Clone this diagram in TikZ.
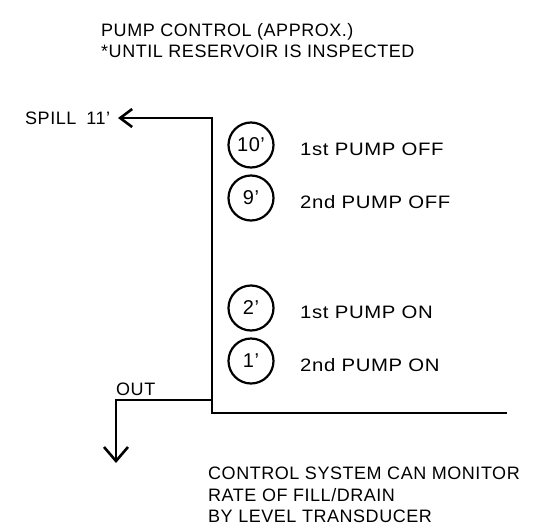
\documentclass[tikz,border=0pt]{standalone}
\usepackage{fontspec}
\setmainfont{Liberation Sans}[LetterSpace=3]
\usetikzlibrary{arrows.meta}
\begin{document}
\begin{tikzpicture}[x=1pt,y=-1pt,
  txt/.style={anchor=base west, inner sep=0pt, font=\fontsize{18}{18}\selectfont},
  lbl/.style={txt, xscale=1.13, transform shape},
  lvl/.style={circle, draw, line width=2.2pt, minimum size=45pt, inner sep=0pt, font=\fontsize{20}{20}\selectfont},
  pipe/.style={line width=2.6pt},
  barb/.style={-{Straight Barb[length=14pt,width=24pt,line width=2.6pt]}},
  sbarb/.style={-{Straight Barb[length=12pt,width=18pt,line width=2.6pt]}}]
\useasboundingbox (0,0) rectangle (556,530);
% title
\node[txt] (t1) at (101,36.5) {PUMP CONTROL (APPROX.)};
\node[txt] (t2) at (101,57.5) {*UNTIL RESERVOIR IS INSPECTED};
% spill
\node[txt] (spill) at (25,124.5) {SPILL\hspace{10pt}11'};
\coordinate (spilltip) at (118,118);
\coordinate (top) at (212,118);
\coordinate (bend) at (212,413);
\coordinate (end) at (507,413);
\draw[pipe,sbarb] (end) -- (bend) -- (top) -- (spilltip);
% out
\node[txt] (out) at (116,395) {OUT};
\coordinate (outR) at (212,400);
\coordinate (outL) at (116,400);
\coordinate (outtip) at (116,463);
\draw[pipe,barb] (outR) -- (outL) -- (outtip);
% levels
\node[lvl] (c10) at (251,145) {10'};
\node[lvl] (c9) at (251,198) {9'};
\node[lvl] (c2) at (251,308) {2'};
\node[lvl] (c1) at (251,361) {1'};
\node[lbl] (l10) at (300,155.5) {1st PUMP OFF};
\node[lbl] (l9) at (300,208.5) {2nd PUMP OFF};
\node[lbl] (l2) at (300,318.5) {1st PUMP ON};
\node[lbl] (l1) at (300,371.5) {2nd PUMP ON};
% note
\node[txt] (n1) at (208,479.5) {CONTROL SYSTEM CAN MONITOR};
\node[txt] (n2) at (208,501.5) {RATE OF FILL/DRAIN};
\node[txt] (n3) at (208,522.5) {BY LEVEL TRANSDUCER};
\end{tikzpicture}
\end{document}
